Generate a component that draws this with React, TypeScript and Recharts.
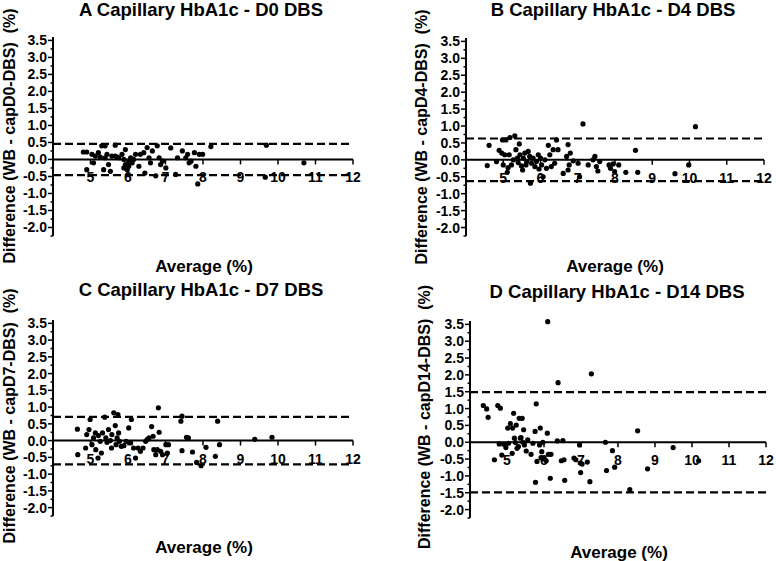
import React from "react";
import {
  ScatterChart,
  Scatter,
  XAxis,
  YAxis,
  ReferenceLine,
  ReferenceDot,
} from "recharts";

// tick values shared by all four Bland-Altman panels
const xTicks = [5, 6, 7, 8, 9, 10, 11, 12];
const yTicks = [
  -2.25, -2, -1.75, -1.5, -1.25, -1, -0.75, -0.5, -0.25, 0, 0.25, 0.5, 0.75, 1,
  1.25, 1.5, 1.75, 2, 2.25, 2.5, 2.75, 3, 3.25, 3.5,
];

// limits of agreement (+/-) per panel
const loaD0 = 0.46;
const loaD4 = 0.63;
const loaD7 = 0.71;
const loaD14 = 1.49;

// [average, difference]
const d0Points: [number, number][] = [
  [4.81, 0.22], [4.9, 0.22], [4.9, -0.3], [5.04, 0.15], [5.08, -0.1], [5.13, 0.1],
  [5.21, 0.2], [5.26, 0.07], [5.3, 0.4], [5.35, -0.3], [5.39, 0.4], [5.39, 0.05],
  [5.44, 0.15], [5.48, -0.15], [5.53, -0.35], [5.57, 0.1], [5.66, 0.42], [5.66, 0.1],
  [5.71, 0.07], [5.75, 0.05], [5.84, 0.15], [5.89, 0.0], [5.89, -0.25], [5.93, 0.29],
  [5.93, -0.15], [5.98, -0.3], [6.02, -0.05], [6.02, -0.2], [6.07, 0.05], [6.11, -0.1],
  [6.15, 0.0], [6.2, 0.15], [6.29, -0.2], [6.33, 0.15], [6.42, 0.2], [6.45, -0.4],
  [6.51, 0.35], [6.56, 0.05], [6.6, -0.1], [6.65, 0.25], [6.74, -0.48], [6.78, 0.4],
  [6.83, 0.05], [6.87, -0.15], [6.92, -0.05], [7.01, -0.25], [7.14, 0.34], [7.27, -0.44],
  [7.32, 0.05], [7.45, 0.25], [7.54, 0.05], [7.59, 0.15], [7.63, -0.1], [7.68, -0.05],
  [7.77, 0.2], [7.81, -0.2], [7.86, -0.72], [7.9, 0.15], [7.99, 0.15], [8.21, 0.38],
  [9.69, 0.42], [9.66, -0.52], [10.69, -0.1],
];

const d4Points: [number, number][] = [
  [4.57, -0.17], [4.62, 0.43], [4.82, -0.05], [4.89, 0.28], [4.96, 0.2], [4.98, 0.59],
  [5.0, -0.15], [5.04, 0.15], [5.07, 0.59], [5.11, -0.37], [5.13, -0.23], [5.16, 0.15],
  [5.18, 0.66], [5.22, -0.15], [5.27, 0.0], [5.31, 0.71], [5.34, 0.3], [5.38, 0.05],
  [5.4, -0.08], [5.43, 0.47], [5.45, 0.15], [5.49, -0.18], [5.52, -0.3], [5.54, 0.05],
  [5.58, 0.2], [5.61, -0.15], [5.63, -0.05], [5.67, 0.25], [5.71, 0.1], [5.73, -0.69],
  [5.76, -0.1], [5.8, 0.05], [5.85, -0.2], [5.89, -0.05], [5.94, 0.15], [5.96, -0.27],
  [6.0, 0.05], [6.03, -0.15], [6.07, -0.5], [6.12, 0.0], [6.16, -0.25], [6.21, 0.43],
  [6.25, 0.15], [6.29, -0.2], [6.34, 0.3], [6.38, -0.1], [6.43, 0.59], [6.47, 0.3],
  [6.61, -0.4], [6.7, 0.1], [6.74, 0.45], [6.74, -0.3], [6.77, -0.15], [6.8, 0.2],
  [6.88, -0.03], [7.01, -0.1], [7.05, -0.5], [7.14, 1.06], [7.28, -0.15], [7.41, 0.0],
  [7.46, 0.1], [7.5, -0.2], [7.54, -0.33], [7.59, -0.05], [7.84, -0.15], [7.88, -0.25],
  [7.95, -0.12], [7.99, -0.35], [8.1, -0.15], [8.29, -0.37], [8.55, 0.28], [8.61, -0.37],
  [9.61, -0.41], [9.98, -0.15], [10.16, 0.98],
];

const d7Points: [number, number][] = [
  [4.65, 0.34], [4.66, -0.42], [4.87, -0.22], [4.9, 0.18], [4.96, 0.33], [4.99, 0.63],
  [5.04, -0.12], [5.08, 0.08], [5.13, 0.23], [5.14, -0.27], [5.2, -0.52], [5.21, 0.15],
  [5.26, -0.02], [5.29, -0.37], [5.32, 0.23], [5.38, 0.7], [5.41, 0.08], [5.44, -0.05],
  [5.48, 0.33], [5.53, 0.0], [5.56, -0.22], [5.57, 0.18], [5.62, 0.83], [5.66, 0.45],
  [5.68, -0.12], [5.71, 0.08], [5.73, 0.78], [5.75, 0.23], [5.77, -0.02], [5.82, -0.17],
  [5.89, -0.15], [5.95, -0.02], [6.02, 0.38], [6.09, 0.63], [6.07, -0.07], [6.15, -0.22],
  [6.2, -0.52], [6.27, -0.22], [6.33, -0.32], [6.4, -0.22], [6.47, -0.02], [6.51, 0.03],
  [6.56, 0.08], [6.63, 0.42], [6.67, 0.13], [6.69, -0.27], [6.74, -0.42], [6.78, -0.27],
  [6.81, 0.98], [6.83, 0.25], [6.87, -0.32], [6.92, -0.42], [7.01, -0.12], [7.05, -0.37],
  [7.08, -0.12], [7.41, 0.58], [7.44, 0.73], [7.44, -0.3], [7.56, 0.1], [7.61, 0.08],
  [7.72, -0.34], [7.83, -0.65], [7.95, -0.75], [8.08, -0.2], [8.33, -0.47], [8.39, 0.58],
  [8.44, -0.12], [9.38, 0.04], [9.84, 0.1],
];

const d14Points: [number, number][] = [
  [4.36, 1.09], [4.45, 0.99], [4.49, 0.74], [4.66, -0.52], [4.75, 1.09], [4.82, 1.01],
  [4.79, -0.05], [4.86, -0.38], [4.91, -0.06], [4.97, -0.16], [5.02, 0.42], [5.04, -0.03],
  [5.09, 0.55], [5.14, -0.33], [5.15, 0.42], [5.18, 0.86], [5.2, 0.12], [5.23, -0.01],
  [5.25, 0.51], [5.27, -0.18], [5.31, -0.13], [5.33, 0.71], [5.36, 0.12], [5.38, 0.14],
  [5.41, 0.71], [5.43, 0.0], [5.45, 0.37], [5.47, -0.08], [5.52, -0.26], [5.56, 0.07],
  [5.65, -0.36], [5.7, -0.03], [5.76, 0.32], [5.79, 1.14], [5.81, -0.57], [5.88, -0.08],
  [5.9, 0.42], [5.92, -0.46], [5.94, -0.28], [5.97, 0.0], [6.01, -0.5], [6.06, -0.55],
  [6.09, 0.27], [6.1, 3.58], [6.12, -0.36], [6.17, -1.07], [6.19, -0.36], [5.77, -1.19],
  [6.36, 0.04], [6.38, 1.77], [6.47, -0.55], [6.51, 0.05], [6.54, -0.52], [6.56, -1.13],
  [6.81, -0.47], [6.86, -0.52], [6.96, -0.08], [6.98, -0.62], [6.99, -0.9], [7.03, -0.65],
  [7.17, -0.59], [7.24, -1.17], [7.28, 2.03], [7.66, 0.0], [7.69, -0.84], [7.85, -0.25],
  [7.91, -0.74], [8.32, -1.41], [8.53, 0.34], [8.8, -0.79], [9.49, -0.16], [10.18, -0.55],
];

const FONT = "'Liberation Sans', Arial, Helvetica, sans-serif";

const YTick = (props: any) => {
  const { x, y, payload } = props;
  const v = payload.value;
  const major = Math.abs(v * 2 - Math.round(v * 2)) < 1e-6;
  return (
    <g>
      <line x1={x} x2={x - (major ? 5 : 2.5)} y1={y} y2={y} stroke="#000" strokeWidth={1.5} />
      {major && (
        <text
          x={x - 6}
          y={y}
          dy={5}
          textAnchor="end"
          fontFamily={FONT}
          fontWeight="bold"
          fontSize={14}
          fill="#000"
        >
          {v.toFixed(1)}
        </text>
      )}
    </g>
  );
};

const XTickMark = (value: number) => (props: any) => {
  const { cx, cy } = props;
  return (
    <g>
      <line x1={cx} x2={cx} y1={cy} y2={cy + 5} stroke="#000" strokeWidth={1.5} />
      <text
        x={cx}
        y={cy + 23}
        textAnchor="middle"
        fontFamily={FONT}
        fontWeight="bold"
        fontSize={14}
        fill="#000"
      >
        {value}
      </text>
    </g>
  );
};

const Dot = (props: any) => <circle cx={props.cx} cy={props.cy} r={2.6} fill="#000" />;

interface PanelProps {
  title: string;
  yLabel: string;
  points: [number, number][];
  loa: number;
  left: number;
  top: number;
  margin: { top: number; right: number; bottom: number; left: number };
  yAxisWidth: number;
  titlePos: [number, number];
  yLabelPos: [number, number];
  xLabelPos: [number, number];
}

const W = 388;
const H = 281;

const Panel = (p: PanelProps) => {
  const data = p.points.map(([avg, diff]) => ({ avg, diff }));
  return (
    <div style={{ position: "absolute", left: p.left, top: p.top, width: W, height: H }}>
      <ScatterChart width={W} height={H} margin={p.margin}>
        <XAxis type="number" dataKey="avg" domain={[4, 12]} hide />
        <YAxis
          type="number"
          dataKey="diff"
          domain={[-2.25, 3.6]}
          ticks={yTicks}
          interval={0}
          width={p.yAxisWidth}
          axisLine={{ stroke: "#000", strokeWidth: 2 }}
          tickLine={false}
          tickSize={0}
          tickMargin={0}
          tick={<YTick />}
        />
        <ReferenceLine y={p.loa} stroke="#000" strokeWidth={2.2} strokeDasharray="8 4" />
        <ReferenceLine y={-p.loa} stroke="#000" strokeWidth={2.2} strokeDasharray="8 4" />
        <ReferenceLine y={0} stroke="#000" strokeWidth={2} />
        {xTicks.map((t) => (
          <ReferenceDot key={t} x={t} y={0} r={0} shape={XTickMark(t)} />
        ))}
        <Scatter data={data} shape={Dot} isAnimationActive={false} />
      </ScatterChart>
      <svg
        width={W}
        height={H}
        style={{ position: "absolute", left: 0, top: 0, pointerEvents: "none" }}
      >
        <text
          x={p.titlePos[0]}
          y={p.titlePos[1]}
          textAnchor="middle"
          fontFamily={FONT}
          fontWeight="bold"
          fontSize={18.5}
          fill="#000"
        >
          {p.title}
        </text>
        <text
          transform={`translate(${p.yLabelPos[0]},${p.yLabelPos[1]}) rotate(-90)`}
          textAnchor="middle"
          fontFamily={FONT}
          fontWeight="bold"
          fontSize={16}
          fill="#000"
          style={{ whiteSpace: "pre" }}
        >
          {p.yLabel}
        </text>
        <text
          x={p.xLabelPos[0]}
          y={p.xLabelPos[1]}
          textAnchor="middle"
          fontFamily={FONT}
          fontWeight="bold"
          fontSize={17}
          fill="#000"
        >
          Average (%)
        </text>
      </svg>
    </div>
  );
};

export default function App() {
  return (
    <div style={{ position: "absolute", left: 0, top: 0, width: 776, height: 561, background: "#fff" }}>
      <Panel
        title="A Capillary HbA1c - D0 DBS"
        yLabel="Difference (WB - capD0-DBS)  (%)"
        points={d0Points}
        loa={loaD0}
        left={0}
        top={0}
        margin={{ top: 37, right: 35, bottom: 45, left: 0 }}
        yAxisWidth={53}
        titlePos={[201, 16]}
        yLabelPos={[14.5, 136]}
        xLabelPos={[204, 272]}
      />
      <Panel
        title="B Capillary HbA1c - D4 DBS"
        yLabel="Difference (WB - capD4-DBS)  (%)"
        points={d4Points}
        loa={loaD4}
        left={386}
        top={0}
        margin={{ top: 38, right: 10, bottom: 45, left: 0 }}
        yAxisWidth={80}
        titlePos={[227, 16]}
        yLabelPos={[41, 137]}
        xLabelPos={[229, 272]}
      />
      <Panel
        title="C Capillary HbA1c - D7 DBS"
        yLabel="Difference (WB - capD7-DBS)  (%)"
        points={d7Points}
        loa={loaD7}
        left={0}
        top={280}
        margin={{ top: 40, right: 35, bottom: 45, left: 0 }}
        yAxisWidth={53}
        titlePos={[201, 16]}
        yLabelPos={[14.5, 136]}
        xLabelPos={[204, 273]}
      />
      <Panel
        title="D Capillary HbA1c - D14 DBS"
        yLabel="Difference (WB - capD14-DBS)  (%)"
        points={d14Points}
        loa={loaD14}
        left={386}
        top={280}
        margin={{ top: 41, right: 8, bottom: 43, left: 0 }}
        yAxisWidth={84}
        titlePos={[231, 18]}
        yLabelPos={[44, 137]}
        xLabelPos={[233, 278]}
      />
    </div>
  );
}
